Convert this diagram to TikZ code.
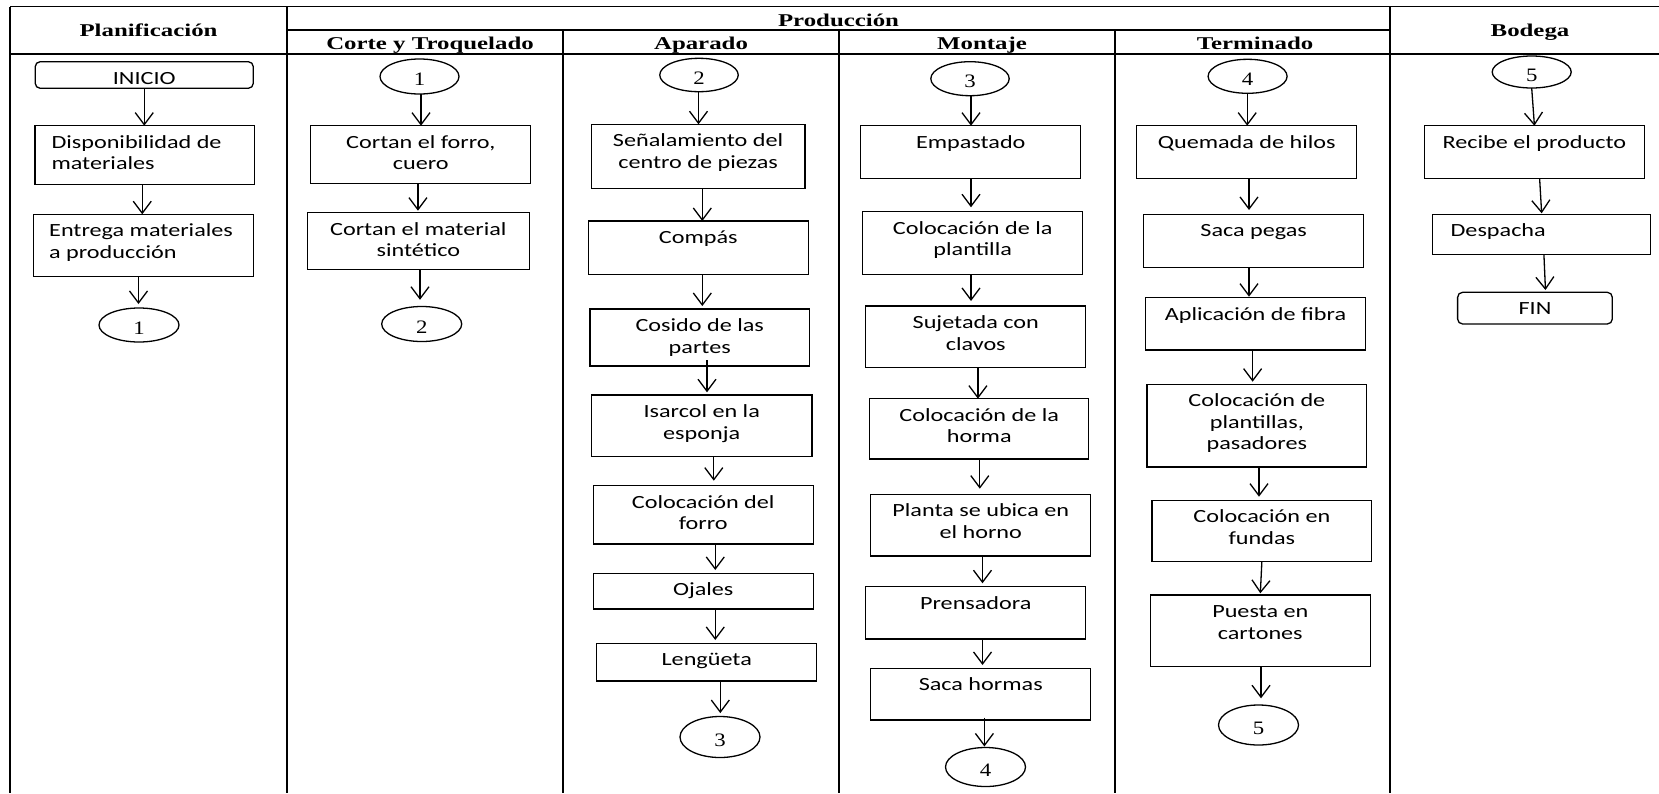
\documentclass[tikz,border=0pt]{standalone}
\usepackage{fontspec}
\usetikzlibrary{arrows.meta,shapes.geometric,calc}
\newfontfamily\bodyfont[FakeStretch=1.3]{Carlito}
\newfontfamily\headfont[FakeStretch=1.38]{Liberation Serif}
\newfontfamily\numfont[FakeStretch=1.2]{Liberation Serif}
\tikzset{
  stepbox/.style={rectangle, draw, line width=1.3pt, inner sep=0pt, outer sep=0pt,
    font=\bodyfont\fontsize{18.6}{21.5}\selectfont},
  roundbox/.style={rounded corners=5pt},
  conn/.style={ellipse, draw, line width=1.3pt, inner sep=0pt, outer sep=0pt,
    text height=18pt, text depth=0pt, font=\numfont\fontsize{19}{22}\selectfont},
  arr/.style={-{Straight Barb[length=12pt,width=18pt]}, line width=1.3pt},
  hdr/.style={anchor=base, inner sep=0pt, font=\headfont\bfseries\fontsize{18}{20}\selectfont},
  hline/.style={line width=1.6pt},
  vline/.style={line width=2.2pt},
}
\newcommand\procbox[8][]{%
  \pgfmathsetmacro\bw{#5-#3}%
  \pgfmathsetmacro\bh{#6-#4}%
  \node[stepbox,#1,anchor=north west] (#2) at (#3,#4)
   {\parbox[c][\bh pt][t]{\bw pt}{#7\vspace*{7.5pt}\rule{0pt}{15pt}#8\par}};%
}
\newcommand\ctr{\centering}
\newcommand\lft[1]{\raggedright\leftskip=#1pt\relax}
\newcommand\varr[4][]{\draw[arr,#1] ($(#2.south)+(#4,0)$) -- ($(#2.south |- #3.north)+(#4,0)$);}
\begin{document}
\begin{tikzpicture}[x=1pt,y=-1pt]
\useasboundingbox (0,0) rectangle (1659,793);
% table grid
\draw[hline] (10,6.5) -- (1659,6.5);
\draw[hline] (287,30) -- (1390,30);
\draw[hline] (10,54) -- (1659,54);
\draw[line width=1.3pt] (10,6.5) -- (10,793);
\draw[vline] (287,6.5) -- (287,793);
\draw[vline] (563,30) -- (563,793);
\draw[vline] (839,30) -- (839,793);
\draw[vline] (1115,30) -- (1115,793);
\draw[vline] (1390,6.5) -- (1390,793);
% headers
\node[hdr] (hplan) at (148.5,36.3) {Planificación};
\node[hdr] (hprod) at (838.5,26) {Producción};
\node[hdr] (hcorte) at (430,49.3) {Corte y Troquelado};
\node[hdr] (hapar) at (701,49.3) {Aparado};
\node[hdr] (hmont) at (982,49.3) {Montaje};
\node[hdr] (hterm) at (1255,49.3) {Terminado};
\node[hdr] (hbod) at (1530,36) {Bodega};
% Planificacion
\procbox[roundbox]{inicio}{35.2}{61.7}{253.3}{88.3}{\ctr}{INICIO}
\procbox{disp}{35}{125.7}{254.5}{184.3}{\lft{16.5}}{Disponibilidad de\\materiales}
\procbox{entrega}{33.7}{214.3}{253.3}{276.7}{\lft{15.5}}{Entrega materiales\\a producción}
\node[conn, minimum width=80pt, minimum height=34pt] (e1p) at (139,325) {1};
% Corte
\node[conn, minimum width=79pt, minimum height=35pt] (e1c) at (419.5,76.5) {1};
\procbox{cort1}{310.7}{125.7}{530.8}{183.3}{\ctr}{Cortan el forro,\\cuero}
\procbox{cort2}{307.3}{212.7}{529.3}{269.3}{\ctr}{Cortan el material\\sintético}
\node[conn, minimum width=80pt, minimum height=35pt] (e2c) at (421.7,324) {2};
% Aparado
\node[conn, minimum width=78.5pt, minimum height=33.4pt] (e2a) at (699,75) {2};
\procbox{senal}{591.3}{124.3}{804.9}{188.3}{\ctr}{Señalamiento del\\centro de piezas}
\procbox{compas}{588.3}{221}{808.3}{274.3}{\ctr}{Compás}
\procbox{cosido}{590}{309}{809.5}{366}{\ctr}{Cosido de las\\partes}
\procbox{isarcol}{591.3}{395}{812.1}{456.7}{\ctr}{Isarcol en la\\esponja}
\procbox{cforro}{593.2}{485.7}{813.3}{544}{\ctr}{Colocación del\\forro}
\procbox{ojales}{593.2}{573.3}{813.3}{609}{\ctr}{Ojales}
\procbox{leng}{596.7}{643.3}{816.7}{681}{\ctr}{Lengüeta}
\node[conn, minimum width=80pt, minimum height=41pt] (e3a) at (720,737) {3};
% Montaje
\node[conn, minimum width=78.4pt, minimum height=34pt] (e3m) at (970,78.7) {3};
\procbox{empast}{860.7}{125.7}{1080.8}{178.3}{\ctr}{Empastado}
\procbox{cplant}{862.7}{211.7}{1082.7}{274.3}{\ctr}{Colocación de la\\plantilla}
\procbox{sujet}{865.7}{306}{1085.8}{367.7}{\ctr}{Sujetada con\\clavos}
\procbox{chorma}{869.6}{398.7}{1088.8}{459}{\ctr}{Colocación de la\\horma}
\procbox{planta}{870.7}{494.3}{1090.8}{556}{\ctr}{Planta se ubica en\\el horno}
\procbox{prens}{865.7}{586.7}{1085.8}{639}{\ctr}{Prensadora}
\procbox{sacah}{870.7}{668.3}{1090.8}{720}{\ctr}{Saca hormas}
\node[conn, minimum width=80pt, minimum height=39pt] (e4m) at (985.5,767) {4};
% Terminado
\node[conn, minimum width=79pt, minimum height=34pt] (e4t) at (1247.6,76.3) {4};
\procbox{quem}{1136.7}{125.7}{1356.7}{178.3}{\ctr}{Quemada de hilos}
\procbox{sacap}{1143.5}{214.3}{1363.8}{267.3}{\ctr}{Saca pegas}
\procbox{aplic}{1145.3}{297.7}{1365.6}{350}{\ctr}{Aplicación de fibra}
\procbox{cplan2}{1147}{384.3}{1366.7}{467}{\ctr}{Colocación de\\plantillas,\\pasadores}
\procbox{fundas}{1152}{500.3}{1371.7}{561.7}{\ctr}{Colocación en\\fundas}
\procbox{puesta}{1150.3}{595}{1370.2}{666.7}{\ctr}{Puesta en\\cartones}
\node[conn, minimum width=80pt, minimum height=40pt] (e5t) at (1258.5,725) {5};
% Bodega
\node[conn, minimum width=79pt, minimum height=32pt] (e5b) at (1531.7,72) {5};
\procbox{recibe}{1424.4}{125.7}{1644.4}{178.3}{\ctr}{Recibe el producto}
\procbox{despacha}{1432.6}{214.3}{1650.8}{254.3}{\lft{18}}{Despacha}
\procbox[roundbox]{fin}{1457.6}{292.3}{1612.3}{324}{\ctr}{FIN}
% arrows
\varr{inicio}{disp}{0}
\varr{disp}{entrega}{-2.5}
\varr[shorten >=4pt]{entrega}{e1p}{-5}
\varr{e1c}{cort1}{1.5}
\varr[shorten >=2pt]{cort1}{cort2}{-2.8}
\varr[shorten >=6.7pt]{cort2}{e2c}{1.7}
\varr{e2a}{senal}{-0.5}
\varr{senal}{compas}{4.2}
\varr[shorten >=3pt]{compas}{cosido}{4}
\varr[shorten <=-6pt, shorten >=2.7pt]{cosido}{isarcol}{7.25}
\varr[shorten >=5pt]{isarcol}{cforro}{12.1}
\varr[shorten >=3.3pt]{cforro}{ojales}{12}
\varr[shorten >=3.3pt]{ojales}{leng}{12}
\varr[shorten >=3.4pt]{leng}{e3a}{13.6}
\varr{e3m}{empast}{1}
\varr[shorten >=4.4pt]{empast}{cplant}{0.25}
\varr[shorten >=5pt]{cplant}{sujet}{-1.7}
\varr{sujet}{chorma}{2.15}
\varr[shorten >=5.6pt]{chorma}{planta}{0.6}
\varr[shorten >=3.4pt]{planta}{prens}{1.75}
\varr[shorten >=3.3pt]{prens}{sacah}{6.75}
\varr[shorten <=-2.3pt, shorten >=1pt]{sacah}{e4m}{3.65}
\varr{e4t}{quem}{-0.4}
\varr[shorten >=4.3pt]{quem}{sacap}{2.3}
\varr[shorten >=1pt]{sacap}{aplic}{-4.65}
\varr[shorten >=2.6pt]{aplic}{cplan2}{-2.85}
\varr[shorten >=3.6pt]{cplan2}{fundas}{2.15}
\draw[arr, shorten >=1.7pt] (fundas.south) -- (puesta.north);
\varr[shorten >=6.7pt]{puesta}{e5t}{0.75}
\draw[arr] (e5b.south) -- (recibe.north);
\draw[arr, shorten >=1pt] ($(recibe.south)+(5.2,0)$) -- (despacha.north);
\draw[arr, shorten >=2.3pt] ($(despacha.south)+(2.2,0)$) -- ($(fin.north)+(10.6,0)$);
\end{tikzpicture}
\end{document}
